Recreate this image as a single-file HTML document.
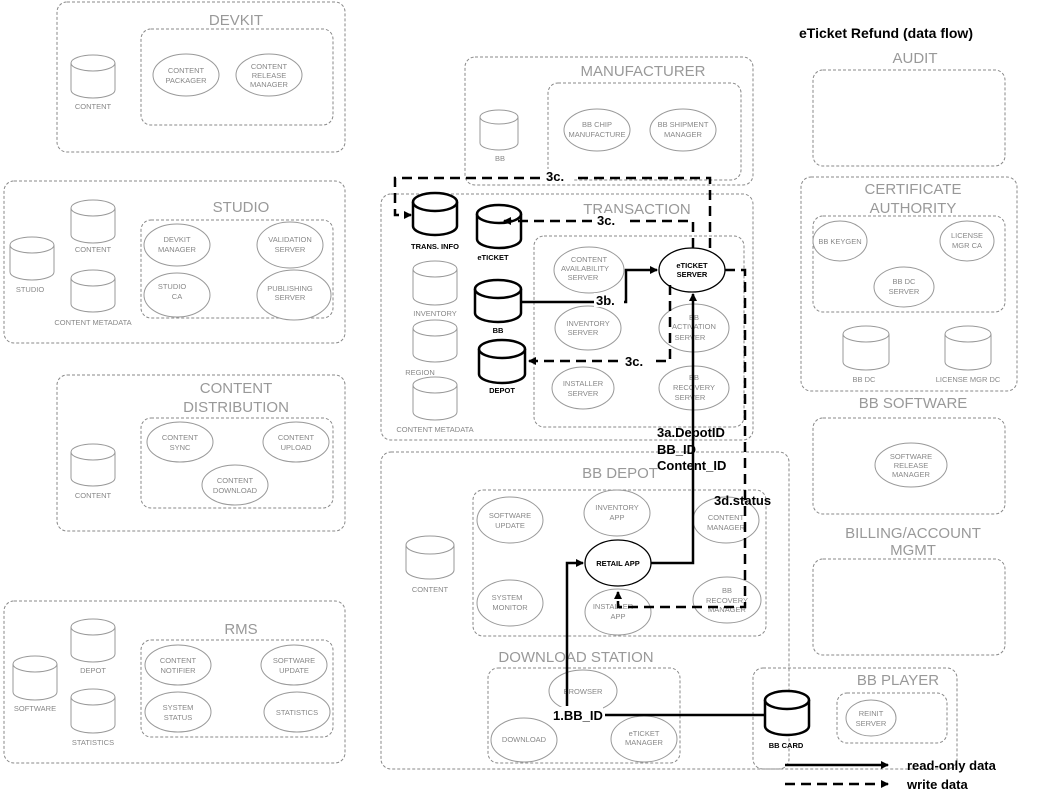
<!DOCTYPE html>
<html><head><meta charset="utf-8"><style>
html,body{margin:0;padding:0;background:#fff;}
svg{display:block;}
.b{fill:none;stroke:#888;stroke-width:1;stroke-dasharray:3,2;}
.g{fill:#fff;stroke:#999;stroke-width:1;}
.k{fill:#fff;stroke:#000;stroke-width:2.5;}
.t{font-family:"Liberation Sans",sans-serif;font-size:15px;fill:#999;text-anchor:middle;}
.s{font-family:"Liberation Sans",sans-serif;font-size:7.5px;fill:#888;text-anchor:middle;}
.sk{font-family:"Liberation Sans",sans-serif;font-size:7.5px;fill:#000;font-weight:bold;text-anchor:middle;}
.L{font-family:"Liberation Sans",sans-serif;font-size:13px;fill:#000;font-weight:bold;}
.ln{fill:none;stroke:#000;stroke-width:2.5;}
.dl{fill:none;stroke:#000;stroke-width:2.5;stroke-dasharray:10,6;}
</style></head><body>
<svg width="1044" height="801" viewBox="0 0 1044 801" xmlns="http://www.w3.org/2000/svg">
<defs><marker id="a" markerWidth="8" markerHeight="8" refX="7" refY="4" orient="auto" markerUnits="userSpaceOnUse"><path d="M0,0 L8,4 L0,8 z" fill="#000"/></marker></defs>

<!-- DEVKIT -->
<rect class="b" x="57" y="2" width="288" height="150" rx="10"/>
<text class="t" x="236" y="25">DEVKIT</text>
<rect class="b" x="141" y="29" width="192" height="96" rx="10"/>
<path class="g" d="M71,63 V90 A22,8 0 0 0 115,90 V63"/><ellipse class="g" cx="93" cy="63" rx="22" ry="8"/>
<text class="s" x="93" y="109">CONTENT</text>
<ellipse class="g" cx="186" cy="75" rx="33" ry="21"/><text class="s" x="186" y="73">CONTENT</text><text class="s" x="186" y="83">PACKAGER</text>
<ellipse class="g" cx="269" cy="75" rx="33" ry="21"/><text class="s" x="269" y="69">CONTENT</text><text class="s" x="269" y="78">RELEASE</text><text class="s" x="269" y="87">MANAGER</text>

<!-- STUDIO -->
<rect class="b" x="4" y="181" width="341" height="162" rx="10"/>
<text class="t" x="241" y="212">STUDIO</text>
<rect class="b" x="141" y="220" width="192" height="98" rx="10"/>
<path class="g" d="M71,208 V235 A22,8 0 0 0 115,235 V208"/><ellipse class="g" cx="93" cy="208" rx="22" ry="8"/><text class="s" x="93" y="252">CONTENT</text>
<path class="g" d="M10,245 V272 A22,8 0 0 0 54,272 V245"/><ellipse class="g" cx="32" cy="245" rx="22" ry="8"/><text class="s" x="30" y="292">STUDIO</text>
<path class="g" d="M71,278 V304 A22,8 0 0 0 115,304 V278"/><ellipse class="g" cx="93" cy="278" rx="22" ry="8"/><text class="s" x="93" y="325">CONTENT METADATA</text>
<ellipse class="g" cx="177" cy="245" rx="33" ry="21"/><text class="s" x="177" y="242">DEVKIT</text><text class="s" x="177" y="252">MANAGER</text>
<ellipse class="g" cx="290" cy="245" rx="33" ry="23"/><text class="s" x="290" y="242">VALIDATION</text><text class="s" x="290" y="252">SERVER</text>
<ellipse class="g" cx="177" cy="295" rx="33" ry="22"/><text class="s" x="172" y="289">STUDIO</text><text class="s" x="177" y="299">CA</text>
<ellipse class="g" cx="294" cy="295" rx="37" ry="25"/><text class="s" x="290" y="291">PUBLISHING</text><text class="s" x="290" y="300">SERVER</text>

<!-- CONTENT DISTRIBUTION -->
<rect class="b" x="57" y="375" width="288" height="156" rx="10"/>
<text class="t" x="236" y="393">CONTENT</text><text class="t" x="236" y="412">DISTRIBUTION</text>
<rect class="b" x="141" y="418" width="192" height="90" rx="10"/>
<path class="g" d="M71,452 V478 A22,8 0 0 0 115,478 V452"/><ellipse class="g" cx="93" cy="452" rx="22" ry="8"/><text class="s" x="93" y="498">CONTENT</text>
<ellipse class="g" cx="180" cy="442" rx="33" ry="20"/><text class="s" x="180" y="440">CONTENT</text><text class="s" x="180" y="450">SYNC</text>
<ellipse class="g" cx="296" cy="442" rx="33" ry="20"/><text class="s" x="296" y="440">CONTENT</text><text class="s" x="296" y="450">UPLOAD</text>
<ellipse class="g" cx="235" cy="485" rx="33" ry="20"/><text class="s" x="235" y="483">CONTENT</text><text class="s" x="235" y="493">DOWNLOAD</text>

<!-- RMS -->
<rect class="b" x="4" y="601" width="341" height="162" rx="10"/>
<text class="t" x="241" y="634">RMS</text>
<rect class="b" x="141" y="640" width="192" height="97" rx="10"/>
<path class="g" d="M71,627 V654 A22,8 0 0 0 115,654 V627"/><ellipse class="g" cx="93" cy="627" rx="22" ry="8"/><text class="s" x="93" y="673">DEPOT</text>
<path class="g" d="M13,664 V692 A22,8 0 0 0 57,692 V664"/><ellipse class="g" cx="35" cy="664" rx="22" ry="8"/><text class="s" x="35" y="711">SOFTWARE</text>
<path class="g" d="M71,697 V725 A22,8 0 0 0 115,725 V697"/><ellipse class="g" cx="93" cy="697" rx="22" ry="8"/><text class="s" x="93" y="745">STATISTICS</text>
<ellipse class="g" cx="178" cy="665" rx="33" ry="20"/><text class="s" x="178" y="663">CONTENT</text><text class="s" x="178" y="673">NOTIFIER</text>
<ellipse class="g" cx="294" cy="665" rx="33" ry="20"/><text class="s" x="294" y="663">SOFTWARE</text><text class="s" x="294" y="673">UPDATE</text>
<ellipse class="g" cx="178" cy="712" rx="33" ry="20"/><text class="s" x="178" y="710">SYSTEM</text><text class="s" x="178" y="720">STATUS</text>
<ellipse class="g" cx="297" cy="712" rx="33" ry="20"/><text class="s" x="297" y="715">STATISTICS</text>

<!-- MANUFACTURER -->
<rect class="b" x="465" y="57" width="288" height="128" rx="10"/>
<text class="t" x="643" y="76">MANUFACTURER</text>
<rect class="b" x="548" y="83" width="193" height="97" rx="10"/>
<path class="g" d="M480,117 V143 A19,7 0 0 0 518,143 V117"/><ellipse class="g" cx="499" cy="117" rx="19" ry="7"/><text class="s" x="500" y="161">BB</text>
<ellipse class="g" cx="597" cy="130" rx="33" ry="21"/><text class="s" x="597" y="127">BB CHIP</text><text class="s" x="597" y="137">MANUFACTURE</text>
<ellipse class="g" cx="683" cy="130" rx="33" ry="21"/><text class="s" x="683" y="127">BB SHIPMENT</text><text class="s" x="683" y="137">MANAGER</text>

<!-- TRANSACTION -->
<rect class="b" x="381" y="194" width="372" height="246" rx="10"/>
<text class="t" x="637" y="214">TRANSACTION</text>
<rect class="b" x="534" y="236" width="210" height="191" rx="10"/>
<path class="g" d="M413,269 V297 A22,8 0 0 0 457,297 V269"/><ellipse class="g" cx="435" cy="269" rx="22" ry="8"/><text class="s" x="435" y="316">INVENTORY</text>
<path class="g" d="M413,328 V354 A22,8 0 0 0 457,354 V328"/><ellipse class="g" cx="435" cy="328" rx="22" ry="8"/><text class="s" x="420" y="375">REGION</text>
<path class="g" d="M413,385 V412 A22,8 0 0 0 457,412 V385"/><ellipse class="g" cx="435" cy="385" rx="22" ry="8"/><text class="s" x="435" y="432">CONTENT METADATA</text>
<path class="k" d="M413,202 V226 A22,9 0 0 0 457,226 V202"/><ellipse class="k" cx="435" cy="202" rx="22" ry="9"/><text class="sk" x="435" y="249">TRANS. INFO</text>
<path class="k" d="M477,214 V239 A22,9 0 0 0 521,239 V214"/><ellipse class="k" cx="499" cy="214" rx="22" ry="9"/><text class="sk" x="493" y="260">eTICKET</text>
<path class="k" d="M475,289 V313 A23,9 0 0 0 521,313 V289"/><ellipse class="k" cx="498" cy="289" rx="23" ry="9"/><text class="sk" x="498" y="333">BB</text>
<path class="k" d="M479,349 V374 A23,9 0 0 0 525,374 V349"/><ellipse class="k" cx="502" cy="349" rx="23" ry="9"/><text class="sk" x="502" y="393">DEPOT</text>
<ellipse class="g" cx="589" cy="270" rx="35" ry="23"/><text class="s" x="589" y="262">CONTENT</text><text class="s" x="585" y="271">AVAILABILITY</text><text class="s" x="583" y="280">SERVER</text>
<ellipse class="g" cx="588" cy="328" rx="33" ry="22"/><text class="s" x="588" y="326">INVENTORY</text><text class="s" x="583" y="335">SERVER</text>
<ellipse class="g" cx="694" cy="328" rx="35" ry="24"/><text class="s" x="694" y="320">BB</text><text class="s" x="694" y="329">ACTIVATION</text><text class="s" x="690" y="340">SERVER</text>
<ellipse class="g" cx="583" cy="388" rx="31" ry="21"/><text class="s" x="583" y="386">INSTALLER</text><text class="s" x="583" y="396">SERVER</text>
<ellipse class="g" cx="694" cy="388" rx="35" ry="22"/><text class="s" x="694" y="380">BB</text><text class="s" x="694" y="390">RECOVERY</text><text class="s" x="690" y="400">SERVER</text>
<ellipse class="k" cx="692" cy="270" rx="33" ry="22" style="stroke-width:1.3"/><text class="sk" x="692" y="268">eTICKET</text><text class="sk" x="692" y="277">SERVER</text>

<!-- BB DEPOT -->
<rect class="b" x="381" y="452" width="408" height="317" rx="10"/>
<text class="t" x="620" y="478">BB DEPOT</text>
<rect class="b" x="473" y="490" width="293" height="146" rx="10"/>
<path class="g" d="M406,545 V570 A24,9 0 0 0 454,570 V545"/><ellipse class="g" cx="430" cy="545" rx="24" ry="9"/><text class="s" x="430" y="592">CONTENT</text>
<ellipse class="g" cx="510" cy="520" rx="33" ry="23"/><text class="s" x="510" y="518">SOFTWARE</text><text class="s" x="510" y="528">UPDATE</text>
<ellipse class="g" cx="617" cy="513" rx="33" ry="23"/><text class="s" x="617" y="510">INVENTORY</text><text class="s" x="617" y="520">APP</text>
<ellipse class="g" cx="726" cy="520" rx="33" ry="23"/><text class="s" x="726" y="520">CONTENT</text><text class="s" x="726" y="530">MANAGER</text>
<ellipse class="g" cx="510" cy="603" rx="33" ry="23"/><text class="s" x="507" y="600">SYSTEM</text><text class="s" x="510" y="610">MONITOR</text>
<ellipse class="g" cx="618" cy="612" rx="33" ry="23"/><text class="s" x="613" y="609">INSTALLER</text><text class="s" x="618" y="619">APP</text>
<ellipse class="g" cx="727" cy="600" rx="34" ry="23"/><text class="s" x="727" y="593">BB</text><text class="s" x="727" y="603">RECOVERY</text><text class="s" x="727" y="612">MANAGER</text>
<ellipse class="k" cx="618" cy="563" rx="33" ry="23" style="stroke-width:1.3"/><text class="sk" x="618" y="566">RETAIL APP</text>

<!-- DOWNLOAD STATION -->
<text class="t" x="576" y="662">DOWNLOAD STATION</text>
<rect class="b" x="488" y="668" width="192" height="95" rx="10"/>
<ellipse class="g" cx="583" cy="691" rx="34" ry="21"/><text class="s" x="583" y="694">BROWSER</text>
<ellipse class="g" cx="524" cy="740" rx="33" ry="22"/><text class="s" x="524" y="742">DOWNLOAD</text>
<ellipse class="g" cx="644" cy="739" rx="33" ry="23"/><text class="s" x="644" y="736">eTICKET</text><text class="s" x="644" y="745">MANAGER</text>

<!-- BB PLAYER -->
<rect class="b" x="753" y="668" width="204" height="101" rx="10"/>
<text class="t" x="898" y="685">BB PLAYER</text>
<rect class="b" x="837" y="693" width="110" height="50" rx="10"/>
<ellipse class="g" cx="871" cy="718" rx="25" ry="18"/><text class="s" x="871" y="716">REINIT</text><text class="s" x="871" y="726">SERVER</text>
<path class="k" d="M765,700 V726 A22,9 0 0 0 809,726 V700"/><ellipse class="k" cx="787" cy="700" rx="22" ry="9"/><text class="sk" x="786" y="748">BB CARD</text>

<!-- Right column -->
<text class="L" x="886" y="38" text-anchor="middle" style="font-size:14px">eTicket Refund (data flow)</text>
<text class="t" x="915" y="63">AUDIT</text>
<rect class="b" x="813" y="70" width="192" height="96" rx="10"/>
<rect class="b" x="801" y="177" width="216" height="214" rx="10"/>
<text class="t" x="913" y="194">CERTIFICATE</text><text class="t" x="913" y="213">AUTHORITY</text>
<rect class="b" x="813" y="216" width="192" height="96" rx="10"/>
<ellipse class="g" cx="840" cy="241" rx="27" ry="20"/><text class="s" x="840" y="244">BB KEYGEN</text>
<ellipse class="g" cx="967" cy="241" rx="27" ry="20"/><text class="s" x="967" y="238">LICENSE</text><text class="s" x="967" y="248">MGR CA</text>
<ellipse class="g" cx="904" cy="287" rx="30" ry="20"/><text class="s" x="904" y="284">BB DC</text><text class="s" x="904" y="294">SERVER</text>
<path class="g" d="M843,334 V362 A23,8 0 0 0 889,362 V334"/><ellipse class="g" cx="866" cy="334" rx="23" ry="8"/><text class="s" x="864" y="382">BB DC</text>
<path class="g" d="M945,334 V362 A23,8 0 0 0 991,362 V334"/><ellipse class="g" cx="968" cy="334" rx="23" ry="8"/><text class="s" x="968" y="382">LICENSE MGR DC</text>
<text class="t" x="913" y="408">BB SOFTWARE</text>
<rect class="b" x="813" y="418" width="192" height="96" rx="10"/>
<ellipse class="g" cx="911" cy="465" rx="36" ry="22"/><text class="s" x="911" y="459">SOFTWARE</text><text class="s" x="911" y="468">RELEASE</text><text class="s" x="911" y="477">MANAGER</text>
<text class="t" x="913" y="538">BILLING/ACCOUNT</text><text class="t" x="913" y="555">MGMT</text>
<rect class="b" x="813" y="559" width="192" height="96" rx="10"/>

<!-- Connectors -->
<path class="dl" d="M710,248 V178 H395 V215 H411" marker-end="url(#a)"/>
<path class="dl" d="M693,248 V221 H504" marker-end="url(#a)"/>
<path class="ln" d="M521,302 H626 V270 H657" marker-end="url(#a)"/>
<path class="dl" d="M670,285 V361 H529" marker-end="url(#a)"/>
<path class="ln" d="M651,563 H693 V294" marker-end="url(#a)"/>
<path class="dl" d="M725,270 H745 V607 H618 V592" marker-end="url(#a)"/>
<path class="ln" d="M765,715 H605"/>
<path class="ln" d="M567,706 V563 H583" marker-end="url(#a)"/>

<!-- Labels with white bg -->
<rect x="544" y="169" width="30" height="14" fill="#fff"/><text class="L" x="546" y="181">3c.</text>
<rect x="596" y="213" width="28" height="14" fill="#fff"/><text class="L" x="597" y="225">3c.</text>
<rect x="594" y="293" width="30" height="14" fill="#fff"/><text class="L" x="596" y="305">3b.</text>
<rect x="624" y="354" width="30" height="14" fill="#fff"/><text class="L" x="625" y="366">3c.</text>
<text class="L" x="657" y="437">3a.DepotID</text>
<text class="L" x="657" y="454">BB_ID</text>
<text class="L" x="657" y="470">Content_ID</text>
<text class="L" x="714" y="505">3d.status</text>
<rect x="552" y="707" width="51" height="15" fill="#fff"/><text class="L" x="553" y="720">1.BB_ID</text>

<!-- Legend -->
<path class="ln" d="M785,765 H888" marker-end="url(#a)"/>
<text class="L" x="907" y="770">read-only data</text>
<path class="dl" d="M785,784 H888" marker-end="url(#a)"/>
<text class="L" x="907" y="789">write data</text>
</svg>
</body></html>
